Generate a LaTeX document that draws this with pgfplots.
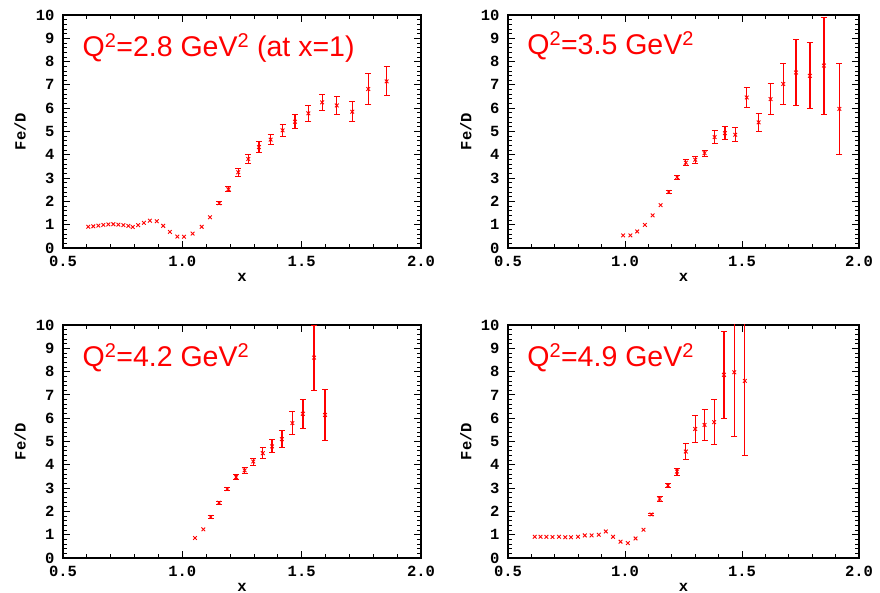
\documentclass[border=0pt]{standalone}
\usepackage{pgfplots}
\pgfplotsset{compat=1.18}
\usepackage{pgfplotstable}
\usepackage{fontspec}
\setmainfont{Liberation Mono}
\newfontfamily\helv{Liberation Sans}

% ---------- Panel 1: Q^2 = 2.8 ----------
\pgfplotstableread{
x y
0.606 0.91
0.627 0.93
0.648 0.96
0.669 0.99
0.690 1.01
0.711 1.02
0.732 1.00
0.753 0.98
0.774 0.95
0.792 0.90
0.815 0.98
0.839 1.08
0.864 1.17
0.893 1.15
0.920 0.95
0.948 0.69
0.979 0.49
1.007 0.48
1.043 0.62
1.081 0.91
1.116 1.32
}\tabAa
\pgfplotstableread{
x y e
1.155 1.92 0.06
1.193 2.52 0.10
1.234 3.25 0.18
1.276 3.82 0.21
1.321 4.33 0.24
1.370 4.65 0.21
1.420 5.05 0.27
1.472 5.42 0.31
1.528 5.78 0.34
1.586 6.25 0.35
1.647 6.12 0.39
1.712 5.85 0.43
1.779 6.82 0.65
1.856 7.15 0.62
}\tabAb
% ---------- Panel 2: Q^2 = 3.5 ----------
\pgfplotstableread{
x y
0.992 0.54
1.023 0.54
1.052 0.71
1.085 0.99
1.118 1.40
1.152 1.84
}\tabBa
\pgfplotstableread{
x y e
1.187 2.40 0.06
1.223 3.04 0.08
1.260 3.66 0.14
1.300 3.79 0.15
1.340 4.07 0.13
1.383 4.76 0.28
1.427 4.93 0.29
1.471 4.86 0.30
1.520 6.46 0.44
1.571 5.39 0.39
1.622 6.39 0.66
1.676 7.04 0.88
1.731 7.53 1.40
1.790 7.39 1.41
1.850 7.83 2.08
1.916 5.97 1.94
}\tabBb
% ---------- Panel 3: Q^2 = 4.2 ----------
\pgfplotstableread{
x y
1.053 0.86
1.088 1.23
}\tabCa
\pgfplotstableread{
x y e
1.119 1.76 0.05
1.154 2.37 0.06
1.188 2.96 0.07
1.225 3.47 0.10
1.261 3.76 0.13
1.297 4.14 0.15
1.337 4.50 0.23
1.376 4.79 0.28
1.417 5.10 0.37
1.461 5.79 0.51
1.505 6.19 0.63
1.552 8.60 1.39
1.598 6.14 1.10
}\tabCb
% ---------- Panel 4: Q^2 = 4.9 ----------
\pgfplotstableread{
x y
0.614 0.91
0.639 0.91
0.664 0.91
0.690 0.90
0.718 0.91
0.745 0.89
0.769 0.89
0.799 0.91
0.828 0.97
0.857 0.97
0.888 1.00
0.918 1.14
0.949 0.91
0.981 0.70
1.012 0.64
1.045 0.84
1.079 1.21
}\tabDa
\pgfplotstableread{
x y e
1.113 1.87 0.05
1.148 2.54 0.10
1.184 3.11 0.10
1.222 3.71 0.15
1.260 4.57 0.34
1.300 5.54 0.57
1.340 5.71 0.68
1.381 5.83 0.98
1.423 7.86 1.88
1.467 7.97 2.76
1.512 7.60 3.21
}\tabDb

\pgfplotsset{
  panel/.style={
    scale only axis, height=233pt, anchor=south west,
    xmin=0.5, xmax=2.0, ymin=0, ymax=10,
    xtick={0.5,1.0,1.5,2.0}, ytick={0,1,...,10},
    minor x tick num=4, minor y tick num=4,
    tick align=inside, major tick length=7pt, minor tick length=4pt,
    axis line style={line width=1.2pt},
    every tick/.style={black, line width=0.8pt},
    xticklabel style={yshift=-5pt, /pgf/number format/.cd, fixed, fixed zerofill, precision=1},
    yticklabel style={xshift=-5pt},
    /pgf/number format/assume math mode=true,
    tick label style={font=\bfseries\fontsize{15.5}{17}\selectfont},
    label style={font=\bfseries\fontsize{15.5}{17}\selectfont},
    xlabel={x}, ylabel={Fe/D},
    xlabel style={at={(axis description cs:0.5,-0.125)}, anchor=center},
    ylabel style={at={(axis description cs:-0.12,0.5)}, anchor=center},
  },
  pts/.style={only marks, mark=x, mark size=2.6pt, red, mark options={line width=0.9pt, solid}},
  errpts/.style={pts,
    error bars/.cd, y dir=both, y explicit,
    error bar style={line width=1.3pt, red},
    error mark options={rotate=90, line width=1pt, mark size=3pt, red}},
}
\tikzset{lab/.style={anchor=west, text=red, font=\helv\fontsize{28.5}{32}\selectfont}}

\begin{document}
\begin{tikzpicture}
\useasboundingbox (0,0) rectangle (880pt,593pt);

\begin{axis}[panel, width=358pt, at={(63pt,345pt)}]
\addplot[pts] table[x=x,y=y] {\tabAa};
\addplot[errpts] table[x=x,y=y,y error=e] {\tabAb};
\node[lab] at (rel axis cs:0.045,0.86) {Q\textsuperscript{2}=2.8 GeV\textsuperscript{2} (at x=1)};
\end{axis}

\begin{axis}[panel, width=351pt, at={(508pt,345pt)}]
\addplot[pts] table[x=x,y=y] {\tabBa};
\addplot[errpts] table[x=x,y=y,y error=e] {\tabBb};
\node[lab] at (rel axis cs:0.045,0.87) {Q\textsuperscript{2}=3.5 GeV\textsuperscript{2}};
\end{axis}

\begin{axis}[panel, width=358pt, at={(63pt,35pt)}]
\addplot[pts] table[x=x,y=y] {\tabCa};
\addplot[errpts] table[x=x,y=y,y error=e] {\tabCb};
\node[lab] at (rel axis cs:0.045,0.86) {Q\textsuperscript{2}=4.2 GeV\textsuperscript{2}};
\end{axis}

\begin{axis}[panel, width=351pt, at={(508pt,35pt)}]
\addplot[pts] table[x=x,y=y] {\tabDa};
\addplot[errpts] table[x=x,y=y,y error=e] {\tabDb};
\node[lab] at (rel axis cs:0.045,0.86) {Q\textsuperscript{2}=4.9 GeV\textsuperscript{2}};
\end{axis}
\end{tikzpicture}
\end{document}
